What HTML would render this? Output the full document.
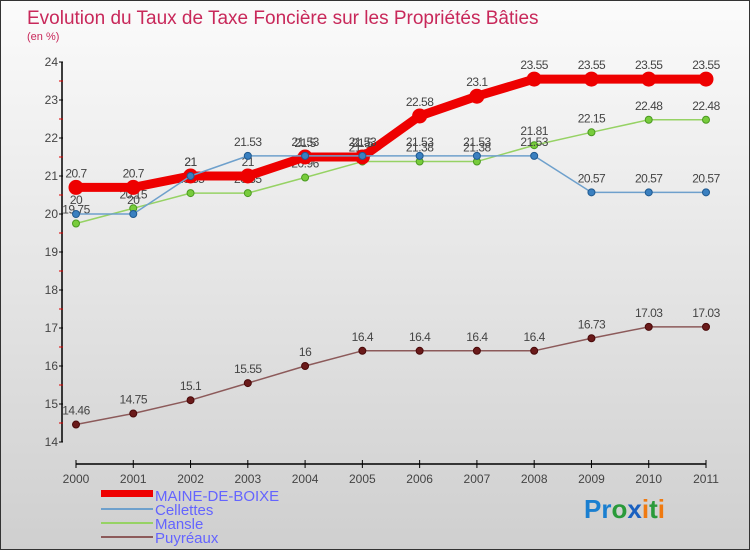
<!DOCTYPE html>
<html><head><meta charset="utf-8"><style>
body{margin:0}
#c{width:750px;height:550px;position:relative;overflow:hidden;box-sizing:border-box;border:1px solid #333;background:linear-gradient(#fbfbfb,#cfcfcf);font-family:"Liberation Sans",sans-serif}
</style></head><body>
<div id="c">
<svg id="s" width="750" height="550" style="position:absolute;left:0;top:0">
<text x="26" y="23" font-size="19" fill="#c8285a">Evolution du Taux de Taxe Foncière sur les Propriétés Bâties</text>
<text x="26" y="39" font-size="11" fill="#c8285a">(en %)</text>
<g id="axes"></g><g id="series"></g>
<g>
<rect x="100" y="489" width="52" height="7" fill="#e00"/>
<text x="154" y="500" font-size="15" fill="#6464ff">MAINE-DE-BOIXE</text>
<line x1="100" y1="508" x2="152" y2="508" stroke="#6ea0cc" stroke-width="2"/>
<text x="154" y="514" font-size="15" fill="#6464ff">Cellettes</text>
<line x1="100" y1="522" x2="152" y2="522" stroke="#96d264" stroke-width="2"/>
<text x="154" y="528" font-size="15" fill="#6464ff">Mansle</text>
<line x1="100" y1="536" x2="152" y2="536" stroke="#8c5a5a" stroke-width="2"/>
<text x="154" y="542" font-size="15" fill="#6464ff">Puyréaux</text>
</g>
<text x="583" y="517" font-size="26" font-weight="bold"><tspan fill="#1a7fd0">Pr</tspan><tspan fill="#2a9a3a">o</tspan><tspan fill="#1a60c0">x</tspan><tspan fill="#f07a10">i</tspan><tspan fill="#2a9a3a">t</tspan><tspan fill="#f07a10">i</tspan></text>
</svg>
</div>
<script>
const years=[2000,2001,2002,2003,2004,2005,2006,2007,2008,2009,2010,2011];
const maine=[20.7,20.7,21,21,21.5,21.5,22.58,23.1,23.55,23.55,23.55,23.55];
const cellettes=[20,20,21,21.53,21.53,21.53,21.53,21.53,21.53,20.57,20.57,20.57];
const mansle=[19.75,20.15,20.55,20.55,20.96,21.38,21.38,21.38,21.81,22.15,22.48,22.48];
const puyreaux=[14.46,14.75,15.1,15.55,16,16.4,16.4,16.4,16.4,16.73,17.03,17.03];
const yTicks=[14,15,16,17,18,19,20,21,22,23,24];
const NS="http://www.w3.org/2000/svg";
const x=i=>75+i*(630/11);
const y=v=>441-(v-14)*38;
function mk(t,a,p){const e=document.createElementNS(NS,t);for(const k in a)e.setAttribute(k,a[k]);p.appendChild(e);return e;}
const ax=document.getElementById('axes');
let e=mk('line',{x1:61,y1:61,x2:61,y2:441,stroke:'#000','stroke-width':1.5},ax);


yTicks.forEach(v=>{
 mk('line',{x1:58,y1:y(v),x2:62,y2:y(v),stroke:'#000'},ax);
 if(v<24)mk('line',{x1:58,y1:y(v+0.5),x2:62,y2:y(v+0.5),stroke:'#d00'},ax);
 const t=mk('text',{x:57,y:y(v)+4,'font-size':12,fill:'#444','text-anchor':'end'},ax);t.textContent=v;
 
 
});
e=mk('line',{x1:75,y1:463,x2:705,y2:463,stroke:'#000','stroke-width':1.5},ax);


years.forEach((yr,i)=>{
 mk('line',{x1:x(i),y1:459,x2:x(i),y2:467,stroke:'#000'},ax);
 const t=mk('text',{x:x(i),y:482,'font-size':12,fill:'#444','text-anchor':'middle'},ax);t.textContent=yr;
 
 
});
const sg=document.getElementById('series');
function draw(data,name,col,w,r,dot,dotStroke){
 const g=mk('g',{},sg);
 
 
 mk('polyline',{points:data.map((v,i)=>x(i)+','+y(v)).join(' '),fill:'none',stroke:col,'stroke-width':w,'stroke-linejoin':'round'},g);
 data.forEach((v,i)=>{
  const c=mk('circle',{cx:x(i),cy:y(v),r:r,fill:dot,stroke:dotStroke,'stroke-width':1},g);
  
  
  const t=mk('text',{x:x(i),y:y(v)-10,'font-size':12,fill:'#444','text-anchor':'middle','letter-spacing':'-0.5'},g);t.textContent=v;
  
  
 });
}
draw(puyreaux,'puyreaux','#8c5a5a',1.5,3.5,'#6a1a1a','#4a0a0a');
draw(mansle,'mansle','#96d264',1.5,3.5,'#78cc3c','#4a9a20');
draw(maine,'maine-de-boixe','#e00',9,7,'#e00','#e00');
draw(cellettes,'cellettes','#6ea0cc',1.5,3.5,'#3a80c0','#205a90');
</script>
</body></html>
